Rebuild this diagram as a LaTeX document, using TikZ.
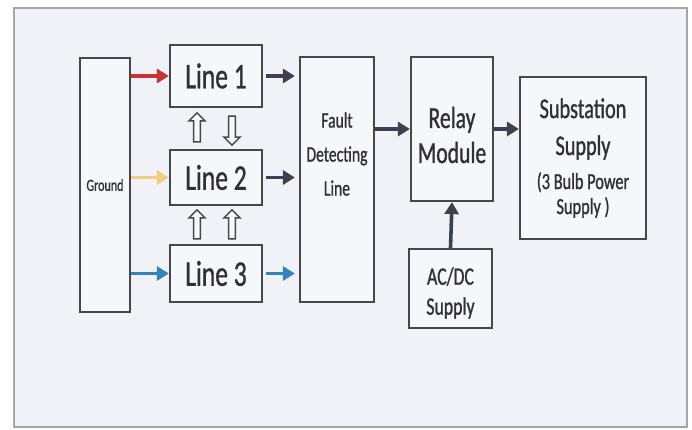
\documentclass[tikz,border=0pt]{standalone}
\usepackage{fontspec}
\setmainfont{Carlito}[FakeStretch=0.71, FakeBold=1]
\definecolor{PanelBg}{RGB}{240, 242, 248}
\definecolor{PanelRim}{RGB}{165, 165, 170}
\definecolor{BoxFill}{RGB}{246, 247, 251}
\definecolor{BoxRim}{RGB}{70, 70, 75}
\definecolor{InkGray}{RGB}{48, 48, 54}
\definecolor{FlowDark}{RGB}{62, 64, 80}
\definecolor{FlowRed}{RGB}{200, 52, 52}
\definecolor{FlowYellow}{RGB}{242, 204, 128}
\definecolor{FlowBlue}{RGB}{52, 132, 186}
\usetikzlibrary{arrows.meta, positioning, shapes.arrows}

\begin{document}
\begin{tikzpicture}[x=1pt, y=-1pt,
    block/.style={draw=BoxRim, fill=BoxFill, line width=2.2pt, text=InkGray, align=center, inner sep=0pt},
    caption/.style={text=InkGray, align=center},
    flow/.style={line width=3.6pt, -{Triangle[length=12pt, width=14pt]}},
    hollow/.style={single arrow, draw=BoxRim, fill=BoxFill, line width=1.5pt, minimum height=29pt,
                   minimum width=16pt, single arrow head extend=4pt, inner sep=2pt}]
        \useasboundingbox (0,0) rectangle (692,429);
        \fill[white] (0,0) rectangle (692,429);
        \draw[PanelRim, fill=PanelBg, line width=1.5pt] (14,8) rectangle (687,427);
        % boxes
        \node[block, minimum width=50pt, minimum height=254pt, font=\fontsize{17}{19}\selectfont] (ground) at (105,185) {Ground};
        \node[block, minimum width=92pt, minimum height=62pt, font=\fontsize{36}{40}\selectfont] (line1) at (216,76) {Line 1};
        \node[block, minimum width=92pt, minimum height=55pt, font=\fontsize{36}{40}\selectfont] (line2) at (216,177.5) {Line 2};
        \node[block, minimum width=92pt, minimum height=57pt, font=\fontsize{36}{40}\selectfont] (line3) at (216,273.5) {Line 3};
        \node[block, minimum width=74pt, minimum height=245pt] (fault) at (337,179.5) {};
        \node[caption, font=\fontsize{22}{34}\selectfont] (faulttext) at (337,154) {Fault\\Detecting\\Line};
        \node[block, minimum width=82pt, minimum height=144pt] (relay) at (452,129) {};
        \node[caption, font=\fontsize{30.5}{35}\selectfont] (relaytext) at (452,135) {Relay\\Module};
        \node[block, minimum width=126pt, minimum height=162pt, font=\fontsize{28.5}{37}\selectfont] (subst) at (583,158)
             {Substation\\Supply\\[-3pt]{\fontsize{23}{25}\selectfont (3 Bulb Power}\\[-12pt]{\fontsize{23}{25}\selectfont Supply )}};
        \node[block, minimum width=83pt, minimum height=79pt] (acdc) at (450.5,288.5) {};
        \node[caption, font=\fontsize{25}{30}\selectfont] (acdctext) at (450.5,293) {AC/DC\\Supply};
        % feeds from ground
        \draw[flow, FlowRed] (ground.east |- line1.west) -- (line1.west);
        \draw[flow, FlowYellow] (ground.east |- line2.west) -- (line2.west);
        \draw[flow, FlowBlue] (ground.east |- line3.west) -- (line3.west);
        % lines to fault detection
        \draw[flow, FlowDark, shorten <=3pt, shorten >=4pt] (line1.east) -- (line1.east -| fault.west);
        \draw[flow, FlowDark, shorten <=3pt, shorten >=4pt] (line2.east) -- (line2.east -| fault.west);
        \draw[flow, FlowBlue, shorten <=3pt, shorten >=4pt] (line3.east) -- (line3.east -| fault.west);
        \draw[flow, FlowDark] (fault.east |- relay.west) -- (relay.west);
        \draw[flow, FlowDark] (relay.east) -- (relay.east -| subst.west);
        \draw[flow, FlowDark] (acdc.north) -- (relay.south);
        % hollow arrows between the lines
        \node[hollow, rotate=90] (up1) at (197,129) {};
        \node[hollow, rotate=-90] (down1) at (232,129) {};
        \node[hollow, rotate=90] (up2) at (197,226) {};
        \node[hollow, rotate=90] (up3) at (232,226) {};
      \end{tikzpicture}
\end{document}
